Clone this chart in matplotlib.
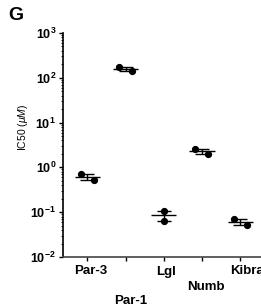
import numpy as np
import matplotlib
matplotlib.use("Agg")
import matplotlib.pyplot as plt

plt.rcParams['font.family'] = ['Liberation Sans', 'DejaVu Sans']
plt.rcParams['mathtext.fontset'] = 'custom'
plt.rcParams['mathtext.rm'] = 'Liberation Sans'
plt.rcParams['mathtext.it'] = 'Liberation Sans:italic'
plt.rcParams['mathtext.bf'] = 'Liberation Sans:bold'

categories = ["Par-3", "Par-1", "Lgl", "Numb", "Kibra"]
rep1 = [0.71, 177.0, 0.107, 2.6, 0.071]   # left (upper) replicate
rep2 = [0.52, 144.0, 0.064, 1.95, 0.052]  # right (lower) replicate
ytick_vals = [1e-2, 1e-1, 1e0, 1e1, 1e2, 1e3]
ytick_labels = [r"$\mathbf{10^{-2}}$", r"$\mathbf{10^{-1}}$", r"$\mathbf{10^{0}}$",
                r"$\mathbf{10^{1}}$", r"$\mathbf{10^{2}}$", r"$\mathbf{10^{3}}$"]
label_rows = [0, 2, 0, 1, 0]
label_shift_px = [3, 5.3, 2.4, 4, 6.9]
row_baseline_px = [17.5, 32.5, 47]

W, H = 261, 308
fig = plt.figure(figsize=(W / 100, H / 100), dpi=100)
ax = fig.add_axes([63 / W, (H - 257) / H, (264.5 - 63) / W, (257 - 33) / H])

x = np.arange(len(categories))
r1 = np.array(rep1)
r2 = np.array(rep2)
means = (r1 + r2) / 2
sem = np.abs(r1 - r2) / 2

# dodge (Lgl replicates overlap at the centre in the reference)
dodge = np.array([0.17, 0.18, 0.0, 0.17, 0.17])
ax.plot(x - dodge, r1, 'o', color='black', ms=4.2, zorder=3)
ax.plot(x + dodge, r2, 'o', color='black', ms=4.2, zorder=3)

ax.hlines(means, x - 0.33, x + 0.33, color='black', lw=1.0, zorder=2)
ax.errorbar(x, means, yerr=sem, fmt='none', ecolor='black', elinewidth=1.0,
            capsize=5, capthick=1.0, zorder=2)

ax.set_yscale('log')
ax.set_ylim(1e-2, 1e3)
ax.set_xlim(-0.636, len(categories) - 1 + 0.636)
ax.set_yticks(ytick_vals)
ax.set_yticklabels(ytick_labels, fontsize=9)
ax.yaxis.set_minor_locator(matplotlib.ticker.LogLocator(base=10, subs=np.arange(2, 10)))
ax.yaxis.set_minor_formatter(matplotlib.ticker.NullFormatter())

ax.set_xticks(x)
ax.set_xticklabels([""] * len(categories))
px2pt = 72 / 100
for xi, cat, row, sp in zip(x, categories, label_rows, label_shift_px):
    ax.annotate(cat, xy=(xi, 0), xycoords=('data', 'axes fraction'),
                xytext=(sp * px2pt, -row_baseline_px[row] * px2pt),
                textcoords='offset points', ha='center', va='baseline',
                fontsize=9.5, fontweight='bold', annotation_clip=False)

ax.tick_params(axis='both', which='major', direction='out', length=3, width=1.0, pad=2)
ax.tick_params(axis='y', which='minor', direction='out', length=1.8, width=0.6)

for s in ['top', 'right']:
    ax.spines[s].set_visible(False)
ax.spines['left'].set_linewidth(1.2)
ax.spines['bottom'].set_linewidth(1.2)
ax.spines['bottom'].set_color('#444444')

ax.set_ylabel(r"IC50 ($\mathit{\mu M}$)", fontsize=7.5)
ax.yaxis.set_label_coords((30.5 - 63) / (264.5 - 63), (257 - 127) / (257 - 33))

fig.text(8 / W, 1 - 7 / H, "G", fontsize=14, fontweight='bold', va='top', ha='left')

fig.savefig("out.png", dpi=100)
